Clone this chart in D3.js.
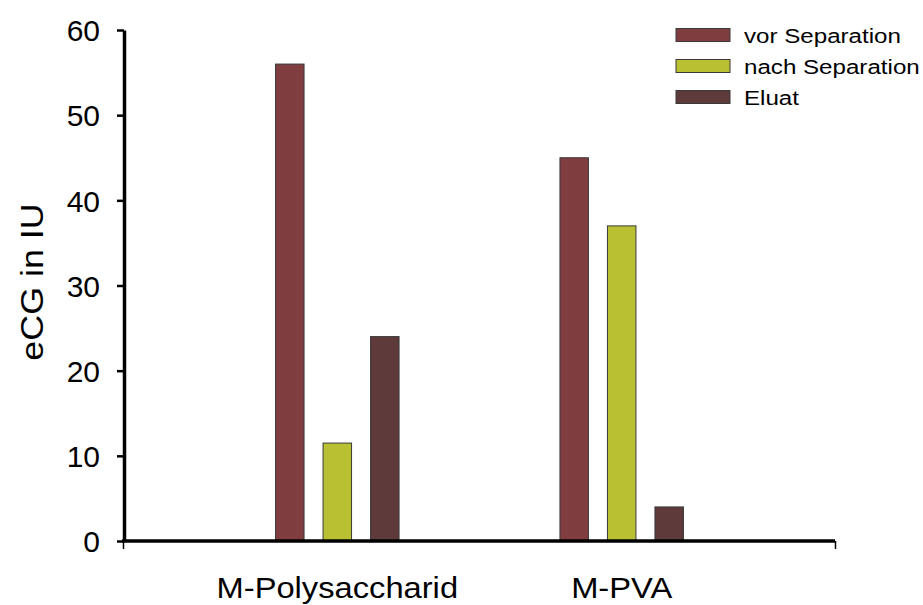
<!DOCTYPE html>
<html>
<head>
<meta charset="utf-8">
<script src="https://cdn.jsdelivr.net/npm/d3@7"></script>
<style>
  body { margin: 0; background: #fff; }
  text { font-family: "Liberation Sans", Arial, sans-serif; fill: #000; }
</style>
</head>
<body>
<svg id="chart" width="923" height="605"></svg>
<script>
const categories = ["M-Polysaccharid", "M-PVA"];
const seriesNames = ["vor Separation", "nach Separation", "Eluat"];
const vorSeparation = [56, 45];
const nachSeparation = [11.5, 37];
const eluat = [24, 4];
const yTicks = [0, 10, 20, 30, 40, 50, 60];
const colors = ["#7f3d40", "#b9c132", "#5e3a3b"];

const svg = d3.select("#chart");
const plotLeft = 124, plotRight = 835, plotTop = 30, plotBottom = 541;

const seriesValues = [vorSeparation, nachSeparation, eluat];
const rows = categories.map((c, i) => ({
    category: c,
    values: seriesNames.map((s, j) => ({ series: s, value: seriesValues[j][i], color: colors[j] }))
}));

const y = d3.scaleLinear().domain([0, 60]).range([plotBottom, plotTop]);
const x = d3.scalePoint().domain(categories).range([plotLeft, plotRight]).padding(0.75);
const inner = d3.scaleBand().domain(seriesNames).range([-71.25, 71.25])
    .paddingInner(0.4).paddingOuter(0.2);

// bars
let groups = svg.append("g").selectAll("g")
    .data(rows).join("g")
    .attr("transform", d => `translate(${x(d.category)},0)`);
groups.selectAll("rect")
    .data(d => d.values).join("rect")
    .attr("x", d => inner(d.series))
    .attr("width", inner.bandwidth())
    .attr("y", d => y(d.value))
    .attr("height", d => y(0) - y(d.value))
    .attr("fill", d => d.color)
    .attr("stroke", "#3a3a3a")
    .attr("stroke-width", 1);

// y axis
let yAxis = svg.append("g")
    .attr("transform", `translate(${plotLeft},0)`)
    .call(d3.axisLeft(y).tickValues(yTicks).tickSize(7).tickPadding(17).tickSizeOuter(0));
yAxis.select(".domain").attr("stroke", "#000").attr("stroke-width", 3.5);
yAxis.selectAll(".tick line").attr("stroke", "#000").attr("stroke-width", 2.5);
yAxis.selectAll(".tick text").attr("font-size", 30).attr("font-family", "Liberation Sans, Arial, sans-serif")
    .attr("dy", "0.36em");

// x axis
let xAxisScale = d3.scaleLinear().domain([0, 1]).range([plotLeft - 1, plotRight]);
let xAxis = svg.append("g")
    .attr("transform", `translate(0,${plotBottom})`)
    .call(d3.axisBottom(xAxisScale).tickValues([0, 1]).tickSize(8).tickFormat(""));
xAxis.select(".domain").attr("stroke", "#000").attr("stroke-width", 3.5).attr("d", `M${plotLeft - 2},0H${plotRight}`);
xAxis.selectAll(".tick line").attr("stroke", "#000").attr("stroke-width", 1.5);

// category labels
svg.append("g").selectAll("text")
    .data(categories).join("text")
    .attr("x", d => x(d))
    .attr("y", 598)
    .attr("text-anchor", "middle")
    .attr("font-size", 30)
    .attr("transform", d => `translate(${x(d)},0) scale(1.09,1) translate(${-x(d)},0)`)
    .text(d => d);

// y title
svg.append("text")
    .attr("transform", "translate(43,282) rotate(-90) scale(1.12,1)")
    .attr("text-anchor", "middle")
    .attr("font-size", 32)
    .text("eCG in IU");

// legend
let legend = svg.append("g").attr("transform", "translate(676,0)");
let items = legend.selectAll("g")
    .data(seriesNames).join("g")
    .attr("transform", (d, i) => `translate(0,${35 + i * 31})`);
items.append("rect")
    .attr("x", 0).attr("y", -6.5)
    .attr("width", 54).attr("height", 13)
    .attr("fill", (d, i) => colors[i])
    .attr("stroke", "#3a3a3a")
    .attr("stroke-width", 1);
items.append("text")
    .attr("x", 68)
    .attr("dy", "0.36em")
    .attr("font-size", 21)
    .attr("transform", "translate(68,0) scale(1.15,1) translate(-68,0)")
    .text(d => d);
</script>
</body>
</html>
